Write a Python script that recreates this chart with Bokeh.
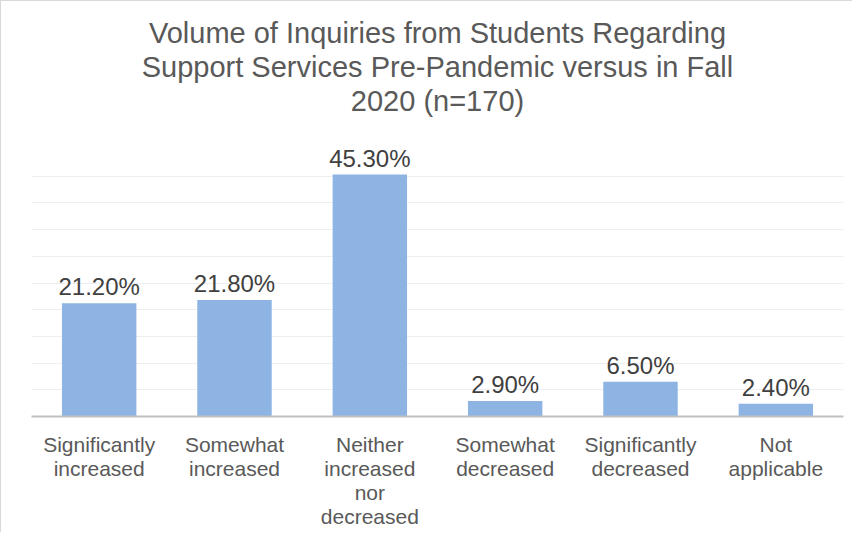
from bokeh.plotting import figure
from bokeh.models import ColumnDataSource, FixedTicker, Title
from bokeh.core.properties import value
from bokeh.embed import file_html
from bokeh.resources import INLINE

categories = ["Significantly\nincreased", "Somewhat\nincreased",
              "Neither\nincreased\nnor\ndecreased", "Somewhat\ndecreased",
              "Significantly\ndecreased", "Not\napplicable"]
percentages = [21.2, 21.8, 45.3, 2.9, 6.5, 2.4]
value_labels = ["21.20%", "21.80%", "45.30%", "2.90%", "6.50%", "2.40%"]
y_ticks = [0, 5, 10, 15, 20, 25, 30, 35, 40, 45, 50]
title_lines = ["Volume of Inquiries from Students Regarding",
               "Support Services Pre-Pandemic versus in Fall",
               "2020 (n=170)"]

FONT = "Liberation Sans"
TCOL = "#595959"

src = ColumnDataSource(dict(cat=categories, val=percentages, lab=value_labels))

p = figure(x_range=categories, y_range=(0, 50), width=852, height=532,
           output_backend="svg", toolbar_location=None,
           min_border_left=30, min_border_right=10,
           min_border_top=148, min_border_bottom=117)


def style_title(t, standoff, size="29px"):
    t.align = "center"
    t.text_font = FONT
    t.text_font_size = size
    t.text_font_style = "normal"
    t.text_color = TCOL
    t.text_line_height = 0.88
    t.standoff = standoff
    t.offset = 0


p.title.text = title_lines[0]
style_title(p.title, 0)
spacer = Title(text=" ")
style_title(spacer, 30, "1px")
p.add_layout(spacer, "above")
t3 = Title(text=title_lines[2])
style_title(t3, 0)
p.add_layout(t3, "above")
t2 = Title(text=title_lines[1])
style_title(t2, 0)
p.add_layout(t2, "above")

p.outline_line_color = None
p.background_fill_color = "white"
p.border_fill_color = "white"
p.x_range.range_padding = 0

p.vbar(x="cat", top="val", width=0.55, source=src,
       fill_color="#8db4e2", line_color=None)
p.text(x="cat", y="val", text="lab", source=src, y_offset=-3,
       text_align="center", text_baseline="bottom",
       text_font=value(FONT), text_font_size="24px", text_color="#404040")

p.yaxis.visible = False
p.ygrid.ticker = FixedTicker(ticks=y_ticks)
p.ygrid.grid_line_color = "#eeeeee"
p.ygrid.grid_line_width = 1
p.xgrid.grid_line_color = None

xa = p.xaxis[0]
xa.axis_line_color = "#bfbfbf"
xa.axis_line_width = 2
xa.major_tick_line_color = None
xa.minor_tick_line_color = None
xa.major_label_text_font = FONT
xa.major_label_text_font_size = "21px"
xa.major_label_text_color = TCOL
xa.major_label_text_line_height = 1.05
xa.major_label_standoff = 10
xa.major_label_orientation = "horizontal"

p.styles = {"border-left": "1px solid #d9d9d9", "border-top": "1px solid #d9d9d9"}

open("out.html", "w").write(file_html(p, INLINE))
